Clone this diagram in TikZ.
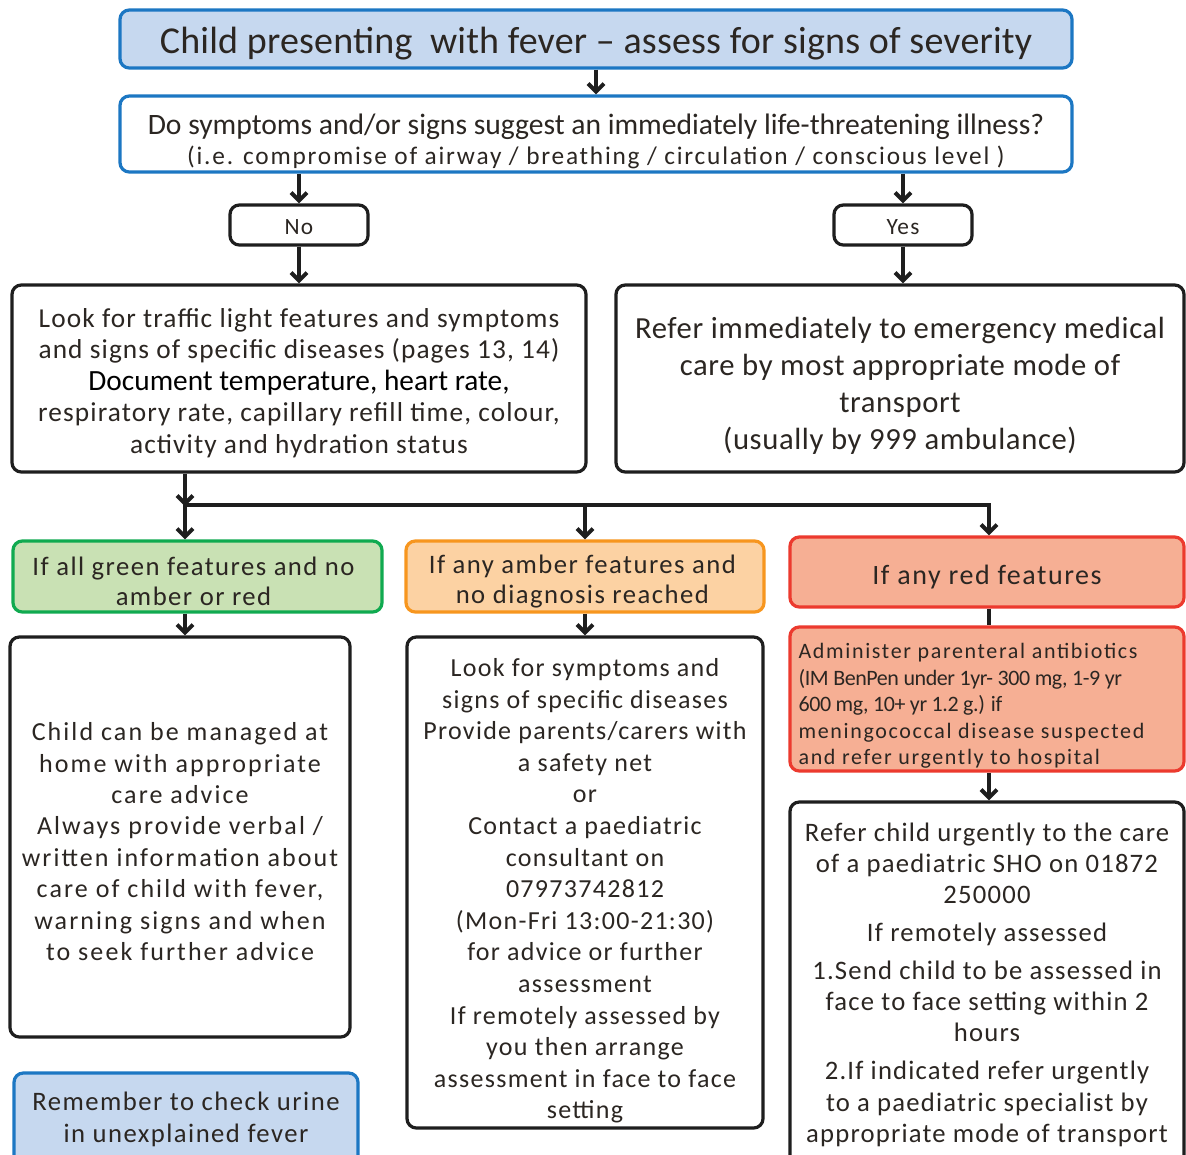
\documentclass[tikz,border=0pt]{standalone}
\usepackage{fontspec}
\setmainfont{Carlito}
\newfontfamily\fA{Carlito}
\newcommand\ls[1]{\addfontfeatures{LetterSpace=#1}}
\usetikzlibrary{arrows.meta}

\definecolor{txt}{HTML}{2B2622}
\definecolor{bluebd}{HTML}{1C77C3}
\definecolor{bluefill}{HTML}{C6D8EF}
\definecolor{greenbd}{HTML}{10AA50}
\definecolor{greenfill}{HTML}{C9E1B4}
\definecolor{amberbd}{HTML}{F7961E}
\definecolor{amberfill}{HTML}{FCD2A3}
\definecolor{redbd}{HTML}{EC3A2E}
\definecolor{redfill}{HTML}{F6AF94}
\definecolor{blackbd}{HTML}{1E1E1E}

% #1 name, #2-#5 corners in pixels, #6 box style, #7 text style, #8 text
\newcommand\placebox[8]{%
  \node[#6, minimum width={(#4-#2)*0.75pt}, minimum height={(#5-#3)*0.75pt}]
    (#1) at ({(#2+#4)/2},{(#3+#5)/2}) {};
  \node[label text, #7] at (#1.center) {#8};}

\tikzset{
  box/.style={draw, line width=2.4pt, rounded corners=7pt, inner sep=0pt},
  bluebox/.style={box, draw=bluebd, fill=bluefill},
  qbox/.style={box, draw=bluebd, fill=white},
  plainbox/.style={box, draw=blackbd, fill=white},
  greenbox/.style={box, draw=greenbd, fill=greenfill},
  amberbox/.style={box, draw=amberbd, fill=amberfill},
  redbox/.style={box, draw=redbd, fill=redfill},
  label text/.style={align=center, text=txt, inner sep=0pt, yshift=-3.5pt},
  link/.style={draw=blackbd, line width=3pt},
  arr/.style={link, -{Straight Barb[length=6pt,width=12pt]}},
}

\begin{document}
\begin{tikzpicture}[x=0.75pt,y=-0.75pt]
\clip (0,0) rectangle (1186,1154);
\fill[white] (0,0) rectangle (1186,1154);

% header and first question
\placebox{title}{120}{10}{1072}{68}{bluebox}
  {font={\fontsize{28.5}{30}\selectfont\ls{0.5}}}
  {Child presenting \ with fever – assess for signs of severity}
\placebox{q}{120}{96}{1072}{172}{qbox}
  {font={\fontsize{19}{22.5}\selectfont}, yshift=-2pt}
  {{\fontsize{22.2}{22.5}\selectfont Do symptoms and/or signs suggest an immediately life-threatening illness?}\\
   {\ls{7}(i.e. compromise of airway / breathing / circulation / conscious level )}}

\placebox{no}{230}{205}{368}{245}{plainbox}
  {font={\fontsize{17.5}{20}\selectfont\ls{5}}, yshift=2pt}{No}
\placebox{yes}{834}{205}{972}{245}{plainbox}
  {font={\fontsize{17.5}{20}\selectfont\ls{5}}, yshift=2pt}{Yes}

% assessment and emergency referral
\placebox{look}{12}{285}{586}{472}{plainbox}
  {font={\fontsize{20.5}{23.6}\selectfont\ls{4}}}
  {Look for traffic light features and symptoms\\
   and signs of specific diseases (pages 13, 14)\\
   {\fA\color{black}\fontsize{22}{23.6}\selectfont Document temperature, heart rate,}\\
   respiratory rate, capillary refill time, colour,\\
   activity and hydration status}
\placebox{refer}{616}{285}{1184}{472}{plainbox}
  {font={\fontsize{23}{27.75}\selectfont\ls{2}}, yshift=-2pt}
  {Refer immediately to emergency medical\\
   care by most appropriate mode of\\
   transport\\
   (usually by 999 ambulance)}

% traffic light branches
\placebox{green}{13}{541}{382}{612}{greenbox}
  {font={\fontsize{20}{22.5}\selectfont\ls{5.5}}, xshift=-3pt}
  {If all green features and no\\ amber or red}
\placebox{amber}{406}{541}{764}{612}{amberbox}
  {font={\fontsize{20}{22.5}\selectfont\ls{5.5}}, xshift=-2pt}
  {If any amber features and\\ no diagnosis reached}
\placebox{red}{790}{537}{1184}{607}{redbox}
  {font={\fontsize{21}{22.5}\selectfont\ls{5.5}}}
  {If any red features}

\placebox{abx}{790}{627}{1184}{771}{redbox}
  {align=left, anchor=west, xshift=-141.5pt, yshift=-1.75pt,
   font={\fontsize{16.5}{19.9}\selectfont\ls{7.5}}}
  {Administer parenteral antibiotics\\
   {\fA\ls{-2}(IM BenPen under 1yr- 300 mg, 1-9 yr}\\
   {\fA\ls{-2}600 mg, 10+ yr 1.2 g.) if}\\
   meningococcal disease suspected\\
   and refer urgently to hospital}

\placebox{home}{10}{637}{350}{1037}{plainbox}
  {font={\fontsize{19.5}{23.55}\selectfont\ls{8}}}
  {Child can be managed at\\
   home with appropriate\\
   care advice\\
   Always provide verbal /\\
   written information about\\
   care of child with fever,\\
   warning signs and when\\
   to seek further advice}
\placebox{advice}{407}{637}{763}{1128}{plainbox}
  {font={\fontsize{19.5}{23.7}\selectfont\ls{5}}, yshift=-2.75pt}
  {Look for symptoms and\\
   signs of specific diseases\\
   Provide parents/carers with\\
   a safety net\\
   or\\
   Contact a paediatric\\
   consultant on\\
   07973742812\\
   (Mon-Fri 13:00-21:30)\\
   for advice or further\\
   assessment\\
   If remotely assessed by\\
   you then arrange\\
   assessment in face to face\\
   setting}
\placebox{sho}{790}{802}{1184}{1166}{plainbox}
  {font={\fontsize{20}{23.5}\selectfont\ls{4.5}}, yshift=3pt}
  {Refer child urgently to the care\\
   of a paediatric SHO on 01872\\
   250000\\[4.8pt]
   If remotely assessed\\[4.8pt]
   1.Send child to be assessed in\\
   face to face setting within 2\\
   hours\\[4.8pt]
   2.If indicated refer urgently\\
   to a paediatric specialist by\\
   appropriate mode of transport}
\placebox{urine}{14}{1073}{358}{1166}{bluebox}
  {font={\fontsize{20}{24}\selectfont\ls{5.5}}, yshift=3.3pt}
  {Remember to check urine\\ in unexplained fever}

% connectors
\draw[arr] (title.south) -- (q.north);
\draw[arr] (q.south -| no.north) -- (no.north);
\draw[arr] (q.south -| yes.north) -- (yes.north);
\draw[arr] (no.south) -- (no.south |- look.north);
\draw[arr] (yes.south) -- (yes.south |- refer.north);

\coordinate (split) at (185,505);
\coordinate (splitR) at (989,505);
\draw[arr] (look.south -| split) -- ([yshift=-1pt]split);
\draw[link, line cap=rect] (split) -- (splitR);
\draw[arr] (split) -- (split |- green.north);
\draw[arr] (split -| amber.north) -- (amber.north);
\draw[arr] (splitR) -- (splitR |- red.north);

\draw[link] (red.south -| splitR) -- (abx.north -| splitR);
\draw[arr] (abx.south -| splitR) -- (sho.north -| splitR);
\draw[arr] (green.south -| split) -- (home.north -| split);
\draw[arr] (amber.south) -- (advice.north);
\end{tikzpicture}
\end{document}
